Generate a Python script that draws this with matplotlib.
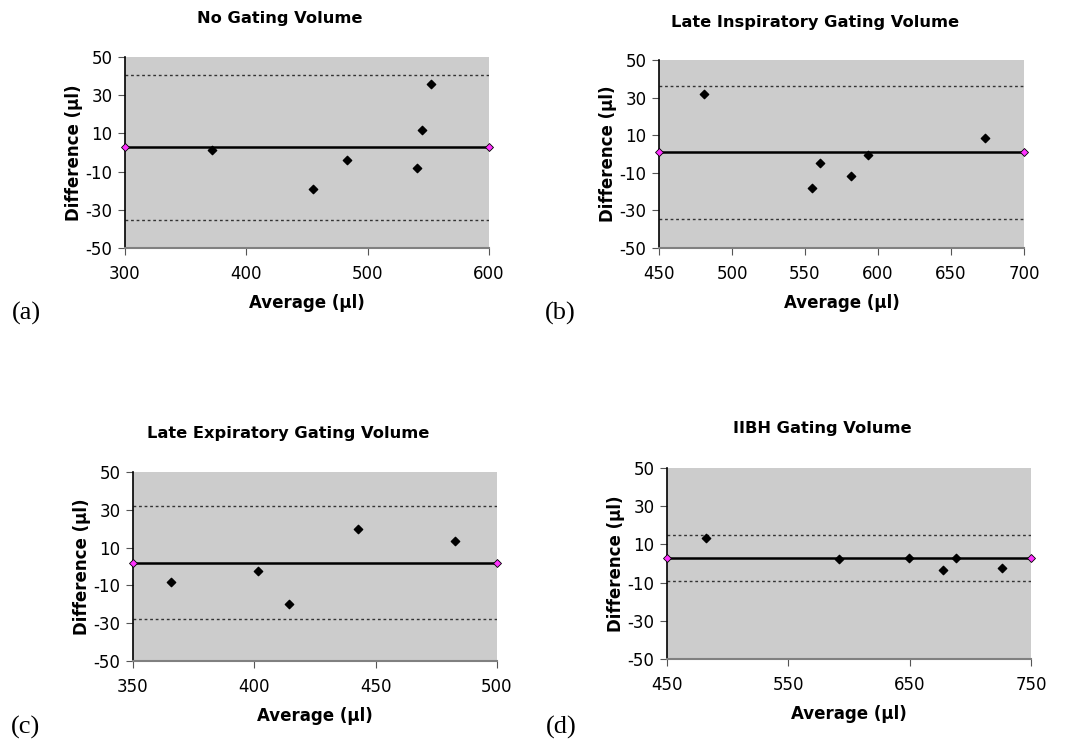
import numpy as np
import matplotlib
matplotlib.use('Agg')
import matplotlib.pyplot as plt

plt.rcParams['axes.unicode_minus'] = False

# Bland-Altman values
titles = ['No Gating Volume', 'Late Inspiratory Gating Volume',
          'Late Expiratory Gating Volume', 'IIBH Gating Volume']
panel_tags = ['(a)', '(b)', '(c)', '(d)']

avg_a = [371.4, 455.2, 483.2, 540.9, 544.8, 552.2]
diff_a = [1.5, -18.9, -4.1, -7.9, 11.6, 35.9]
avg_b = [481.1, 555.0, 560.0, 581.5, 593.4, 673.5]
diff_b = [32.0, -18.0, -4.9, -11.5, -0.5, 8.5]
avg_c = [365.5, 401.5, 414.1, 442.6, 482.6]
diff_c = [-8.4, -2.4, -19.9, 19.6, 13.5]
avg_d = [482.4, 591.6, 649.3, 677.8, 688.3, 726.4]
diff_d = [13.6, 2.4, 3.0, -3.5, 3.0, -2.1]

mean_diff = [2.8, 0.9, 2.1, 2.7]
upper_loa = [40.7, 36.4, 32.1, 14.8]
lower_loa = [-35.2, -34.6, -27.9, -9.2]

x_limits = [(300, 600), (450, 700), (350, 500), (450, 750)]
x_ticks = [[300, 400, 500, 600], [450, 500, 550, 600, 650, 700],
           [350, 400, 450, 500], [450, 550, 650, 750]]
y_ticks = [-50, -30, -10, 10, 30, 50]

avgs = [avg_a, avg_b, avg_c, avg_d]
diffs = [diff_a, diff_b, diff_c, diff_d]

W, H = 1066, 746
fig = plt.figure(figsize=(W / 100, H / 100), dpi=100)

# axes boxes in pixels: left, top, right, bottom
boxes = [(125, 57, 489, 248), (659, 60, 1024, 248),
         (133, 472, 497, 661), (667, 468, 1031, 659)]
title_pos = [(280, 18), (815, 22), (288, 433), (822, 428)]
tag_pos = [(26, 313), (560, 313), (26, 727), (561, 727)]

for i in range(4):
    l, t, r, b = boxes[i]
    ax = fig.add_axes([l / W, 1 - b / H, (r - l) / W, (b - t) / H])
    ax.set_facecolor('#cccccc')
    x0, x1 = x_limits[i]

    ax.axhline(upper_loa[i], color='#333333', lw=1, ls=(0, (2, 2)), zorder=2)
    ax.axhline(lower_loa[i], color='#333333', lw=1, ls=(0, (2, 2)), zorder=2)
    ax.plot([x0, x1], [mean_diff[i], mean_diff[i]], color='black', lw=1.8,
            marker='D', ms=4.5, mfc='#ff33ff', mec='black', mew=0.6,
            zorder=3, clip_on=False)
    ax.scatter(avgs[i], diffs[i], marker='D', s=18, color='black', zorder=4)

    ax.set_xlim(x0, x1)
    ax.set_ylim(-50, 50)
    ax.set_xticks(x_ticks[i])
    ax.set_yticks(y_ticks)
    ax.tick_params(labelsize=12, length=5, color='#555555')
    ax.tick_params(axis='x', pad=7)
    ax.tick_params(axis='y', pad=4)

    ax.spines['top'].set_visible(False)
    ax.spines['right'].set_visible(False)
    ax.spines['left'].set_color('black')
    ax.spines['left'].set_linewidth(1.2)
    ax.spines['bottom'].set_color('#808080')
    ax.spines['bottom'].set_linewidth(1.5)

    ax.set_xlabel('Average (µl)', fontsize=12, fontweight='bold', labelpad=8)
    ax.set_ylabel('Difference (µl)', fontsize=12, fontweight='bold', labelpad=2)

    tx, ty = title_pos[i]
    fig.text(tx / W, 1 - ty / H, titles[i], ha='center', va='center',
             fontsize=11.7, fontweight='bold')
    gx, gy = tag_pos[i]
    fig.text(gx / W, 1 - gy / H, panel_tags[i], ha='center', va='center',
             fontsize=19, family='Liberation Serif')

fig.savefig('out.png', dpi=100, facecolor='white')
